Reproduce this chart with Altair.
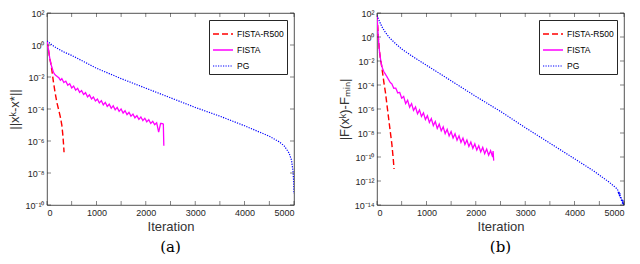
import altair as alt
import pandas as pd

# ---------------- data (log10 of the plotted quantity) ----------------
series_names = ["FISTA-R500", "FISTA", "PG"]
series_colors = ["#ff0000", "#ff00ff", "#0000ff"]
series_dash = [[6, 3], [1, 0], [1.2, 1.3]]

x_ticks = [0, 500, 1000, 1500, 2000, 2500, 3000, 3500, 4000, 4500, 5000]
y_ticks_a = [1e2, 1e0, 1e-2, 1e-4, 1e-6, 1e-8, 1e-10]
y_ticks_b = [1e2, 1e0, 1e-2, 1e-4, 1e-6, 1e-8, 1e-10, 1e-12, 1e-14]
y_tick_labels = ["10²", "10⁰", "10⁻²", "10⁻⁴", "10⁻⁶", "10⁻⁸", "10⁻¹⁰", "10⁻¹²", "10⁻¹⁴"]

tooth_iter = [300, 340, 380, 420, 460, 500, 540, 580, 620, 660, 700, 740, 780, 820,
              860, 900, 940, 980, 1020, 1060, 1100, 1140, 1180, 1220, 1260, 1300,
              1340, 1380, 1420, 1460, 1500, 1540, 1580, 1620, 1660, 1700, 1740, 1780,
              1820, 1860, 1900, 1940, 1980, 2020, 2060, 2100, 2140, 2180, 2220, 2260,
              2300, 2340]

# panel (a): ||x^k - x*||
a_r500_iter = [0, 20, 40, 60, 80, 100, 130, 160, 200, 240, 270, 300, 320, 335, 345]
a_r500_log = [0.25, -0.1, -0.5, -0.9, -1.2, -1.6, -2.3, -2.9, -3.6, -4.1, -4.5, -5.0, -5.6, -6.2, -6.7]

a_fista_head_iter = [0, 20, 40, 60, 80, 100, 130, 160, 200, 240, 270]
a_fista_head_log = [0.25, -0.1, -0.5, -0.9, -1.2, -1.4, -1.7, -1.85, -1.95, -2.05, -2.2]
a_fista_tooth_log = [-2.10, -2.34, -2.26, -2.51, -2.42, -2.68, -2.57, -2.82, -2.71, -2.96,
                     -2.85, -3.09, -2.98, -3.24, -3.12, -3.37, -3.25, -3.50, -3.38, -3.62,
                     -3.48, -3.74, -3.59, -3.84, -3.70, -3.95, -3.80, -4.05, -3.90, -4.15,
                     -4.00, -4.25, -4.11, -4.35, -4.21, -4.45, -4.32, -4.55, -4.42, -4.65,
                     -4.50, -4.72, -4.58, -4.80, -4.67, -4.90, -4.77, -4.98, -4.86, -5.45,
                     -4.90, -4.92]
a_fista_tail_iter = [2355, 2365]
a_fista_tail_log = [-4.95, -6.30]

a_pg_iter = [0, 100, 200, 350, 500, 750, 1000, 1500, 2000, 2500, 3000, 3500, 4000,
             4500, 4700, 4800, 4900, 4950, 4980, 4995, 5000]
a_pg_log = [0.26, 0.0, -0.2, -0.45, -0.65, -1.05, -1.45, -2.1, -2.7, -3.3, -3.9, -4.45,
            -5.05, -5.7, -6.05, -6.3, -6.75, -7.2, -7.9, -8.6, -9.3]

# panel (b): |F(x^k) - F_min|
b_r500_iter = [0, 15, 30, 50, 70, 90, 110, 140, 170, 200, 230, 260, 300, 330, 345]
b_r500_log = [1.75, 0.8, -0.2, -1.2, -1.8, -2.3, -2.9, -3.8, -4.6, -5.6, -6.6, -7.6, -8.9, -10.2, -11.0]

b_fista_head_iter = [0, 15, 30, 50, 70, 90, 110, 140, 170, 200, 240, 270]
b_fista_head_log = [1.75, 0.8, -0.2, -1.2, -1.8, -2.3, -2.6, -2.9, -3.1, -3.3, -3.6, -3.8]
b_fista_tooth_log = [-3.90, -4.28, -4.26, -4.66, -4.62, -5.10, -4.96, -5.55, -5.27, -5.85,
                     -5.55, -6.12, -5.83, -6.40, -6.08, -6.62, -6.32, -6.88, -6.56, -7.12,
                     -6.80, -7.38, -7.04, -7.62, -7.26, -7.82, -7.49, -8.05, -7.70, -8.24,
                     -7.88, -8.42, -8.06, -8.60, -8.24, -8.78, -8.42, -8.95, -8.59, -9.12,
                     -8.75, -9.28, -8.91, -9.42, -9.06, -9.58, -9.20, -9.72, -9.34, -9.85,
                     -9.47, -10.00]
b_fista_tail_iter = [2350, 2362]
b_fista_tail_log = [-9.50, -10.30]

b_pg_iter = [0, 50, 100, 175, 250, 375, 500, 750, 1000, 1500, 2000, 2500, 3000, 3500,
             4000, 4400, 4700, 4860, 4880, 4890, 4900, 4910, 4920, 4930, 4940, 4950,
             4960, 4970, 4980, 4990, 5000]
b_pg_log = [1.8, 1.3, 0.85, 0.35, -0.05, -0.55, -1.0, -1.7, -2.35, -3.65, -4.95, -6.2,
            -7.55, -8.85, -10.15, -11.2, -12.1, -12.65, -12.8, -13.1, -12.9, -13.3,
            -13.0, -13.5, -13.3, -13.7, -13.5, -13.9, -13.6, -14.0, -13.8]

# ---------------- build tables ----------------
def table(parts):
    rows = []
    for name, its, logs in parts:
        for i, (it, lv) in enumerate(zip(its, logs)):
            rows.append({"series": name, "iter": it, "value": 10.0 ** lv, "ord": i})
    return pd.DataFrame(rows)

df_a = table([
    ("FISTA-R500", a_r500_iter, a_r500_log),
    ("FISTA", a_fista_head_iter + tooth_iter + a_fista_tail_iter,
     a_fista_head_log + a_fista_tooth_log + a_fista_tail_log),
    ("PG", a_pg_iter, a_pg_log),
])
df_b = table([
    ("FISTA-R500", b_r500_iter, b_r500_log),
    ("FISTA", b_fista_head_iter + tooth_iter + b_fista_tail_iter,
     b_fista_head_log + b_fista_tooth_log + b_fista_tail_log),
    ("PG", b_pg_iter, b_pg_log),
])

W, H = 247, 192
INK = "#262626"
FONT = "Liberation Sans"
label_expr = ("[" + ",".join("'%s'" % s for s in y_tick_labels) + "]"
              "[round((2 - log(datum.value)/LN10)/2)]")


def panel(df, ydom, yticks, ytitle, sub):
    x_enc = alt.X("iter:Q", title="Iteration",
                  scale=alt.Scale(domain=[0, 5000], nice=False, zero=False),
                  axis=alt.Axis(values=x_ticks, format="d", titleFontWeight=400,
                                titleFont=FONT, titleFontSize=13, titlePadding=3))
    y_enc = alt.Y("value:Q", title=ytitle,
                  scale=alt.Scale(type="log", domain=ydom, nice=False),
                  axis=alt.Axis(values=yticks, labelExpr=label_expr, titleFontWeight=400,
                                titleFont=FONT, titleFontSize=13, titlePadding=3))
    lines = alt.Chart(df).mark_line(clip=True).encode(
        x=x_enc, y=y_enc,
        color=alt.Color("series:N", scale=alt.Scale(domain=series_names, range=series_colors),
                        legend=alt.Legend(title=None)),
        strokeDash=alt.StrokeDash("series:N", scale=alt.Scale(domain=series_names, range=series_dash),
                                  legend=alt.Legend(title=None)),
        strokeWidth=alt.StrokeWidth("series:N", scale=alt.Scale(domain=series_names, range=[1.4, 1.2, 1.0]),
                                    legend=None),
        order="ord:Q",
    )
    xt = pd.DataFrame({"iter": x_ticks})
    yt = pd.DataFrame({"value": yticks})
    xb = alt.Chart(xt).mark_tick(orient="vertical", size=4, thickness=0.8, color=INK).encode(
        x=x_enc, y=alt.value(H - 2))
    xtop = alt.Chart(xt).mark_tick(orient="vertical", size=4, thickness=0.8, color=INK).encode(
        x=x_enc, y=alt.value(2))
    yl = alt.Chart(yt).mark_tick(orient="horizontal", size=4, thickness=0.8, color=INK).encode(
        y=y_enc, x=alt.value(2))
    yr = alt.Chart(yt).mark_tick(orient="horizontal", size=4, thickness=0.8, color=INK).encode(
        y=y_enc, x=alt.value(W - 2))
    return alt.layer(lines, xb, xtop, yl, yr).properties(
        width=W, height=H,
        title=alt.Title(sub, orient="bottom", font="DejaVu Serif", fontSize=15,
                        fontWeight="normal", color="#000000", offset=7),
    )


left = panel(df_a, [1e-10, 1e2], y_ticks_a, "||xᵏ-x*||", "(a)")
right = panel(df_b, [1e-14, 1e2], y_ticks_b, "|F(xᵏ)-Fₘᵢₙ|", "(b)")

chart = alt.hconcat(left, right, spacing=42).resolve_scale(
    x="independent", y="independent", color="independent", strokeDash="independent",
    strokeWidth="independent",
).resolve_legend(color="independent", strokeDash="independent").configure(
    padding={"left": 0, "top": 0, "right": 0, "bottom": 0},
    background="white",
).configure_view(
    stroke=INK, strokeWidth=0.8,
).configure_axis(
    grid=False, ticks=False, domain=False,
    labelFont=FONT, labelFontSize=9, labelColor=INK, labelPadding=3,
    titleColor="#333333",
).configure_legend(
    orient="top-right", offset=7, padding=3, fillColor="white", strokeColor=INK,
    symbolType="stroke", symbolSize=400, symbolStrokeWidth=1.3,
    labelFont=FONT, labelFontSize=8.5, labelColor="#000000",
    rowPadding=-6, labelOffset=3, cornerRadius=0,
)

chart.save("out.html", embed_options={"renderer": "svg", "actions": False})
